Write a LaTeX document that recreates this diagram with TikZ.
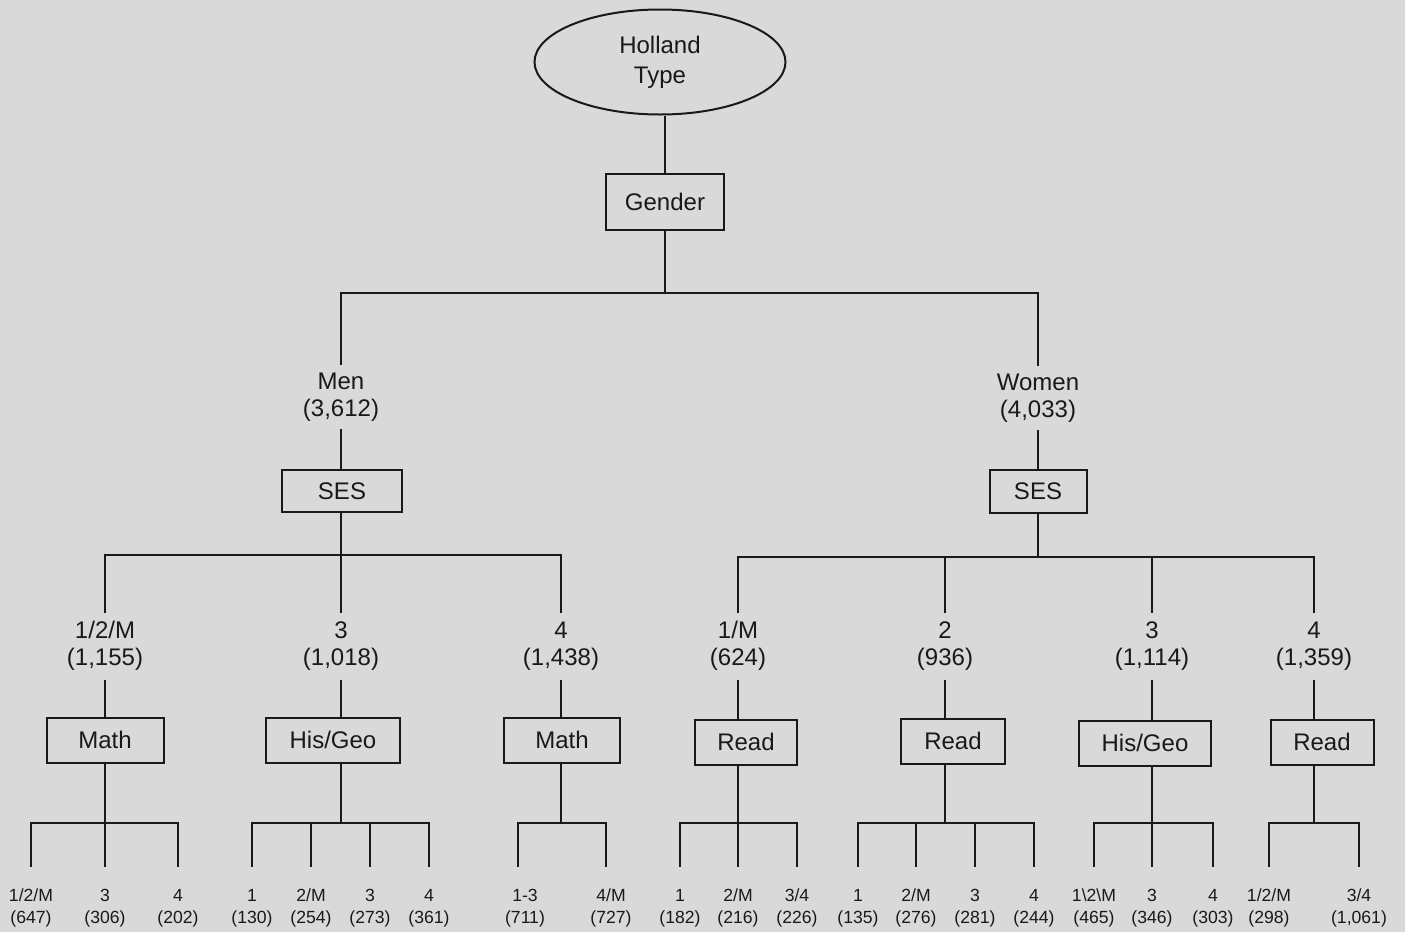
\documentclass[tikz,border=0pt]{standalone}
\usepackage{fontspec}
\setmainfont{Liberation Sans}
\usetikzlibrary{shapes.geometric}
\definecolor{bg}{RGB}{217,217,217}
\definecolor{ink}{RGB}{25,25,25}
\begin{document}
\begin{tikzpicture}[x=0.5pt,y=-0.5pt,color=ink,line width=1pt,
  box/.style={draw, rectangle, minimum height=22.5pt, inner sep=0pt, font=\fontsize{12}{13.5}\selectfont},
  lab/.style={align=center, inner sep=0pt, minimum height=32.5pt, font=\fontsize{12}{13.5}\selectfont},
  leaf/.style={align=center, inner sep=0pt, minimum height=40pt, font=\fontsize{8.8}{11}\selectfont},
  oval/.style={draw, ellipse, minimum width=125.5pt, minimum height=52.5pt, inner sep=0pt, align=center, font=\fontsize{12}{15}\selectfont}]
\path[use as bounding box, fill=bg] (0,0) rectangle (1405,932);

% top
\node[oval] (holland) at (660,62) {Holland\\Type};
\node[box, minimum width=59pt, minimum height=28pt] (gender) at (665,202) {Gender};
\coordinate (top) at (665,293);
\node[lab, minimum height=31pt] (men) at (341,397) {Men\\(3,612)};
\node[lab, minimum height=31pt] (women) at (1038,398) {Women\\(4,033)};
\node[box, minimum width=60pt, minimum height=21pt] (sesm) at (342,491) {SES};
\node[box, minimum width=48.5pt, minimum height=21.5pt] (sesw) at (1038,491) {SES};
\coordinate (bm) at (341,555);
\coordinate (bw) at (1038,557);

% middle labels
\node[lab] (m1) at (105,646) {1/2/M\\(1,155)};
\node[lab] (m2) at (341,646) {3\\(1,018)};
\node[lab] (m3) at (561,646) {4\\(1,438)};
\node[lab] (w1) at (738,646) {1/M\\(624)};
\node[lab] (w2) at (945,646) {2\\(936)};
\node[lab] (w3) at (1152,646) {3\\(1,114)};
\node[lab] (w4) at (1314,646) {4\\(1,359)};

% subject boxes
\node[box, minimum width=58.5pt] (math1) at (105,740) {Math};
\node[box, minimum width=67pt] (hg1) at (333,740) {His/Geo};
\node[box, minimum width=58pt] (math2) at (562,740) {Math};
\node[box, minimum width=51pt] (read1) at (746,742) {Read};
\node[box, minimum width=52pt] (read2) at (953,741) {Read};
\node[box, minimum width=66pt] (hg2) at (1145,743) {His/Geo};
\node[box, minimum width=51.5pt] (read3) at (1322,742) {Read};

% bottom buses
\coordinate (g1) at (105,823);
\coordinate (g2) at (341,823);
\coordinate (g3) at (561,823);
\coordinate (g4) at (738,823);
\coordinate (g5) at (945,823);
\coordinate (g6) at (1152,823);
\coordinate (g7) at (1314,823);

% leaves
\node[leaf] (l11) at (31,908) {1/2/M\\(647)};
\node[leaf] (l12) at (105,908) {3\\(306)};
\node[leaf] (l13) at (178,908) {4\\(202)};
\node[leaf] (l21) at (252,908) {1\\(130)};
\node[leaf] (l22) at (311,908) {2/M\\(254)};
\node[leaf] (l23) at (370,908) {3\\(273)};
\node[leaf] (l24) at (429,908) {4\\(361)};
\node[leaf] (l31) at (525,908) {1-3\\(711)};
\node[leaf] (l32) at (611,908) {4/M\\(727)};
\node[leaf] (l41) at (680,908) {1\\(182)};
\node[leaf] (l42) at (738,908) {2/M\\(216)};
\node[leaf] (l43) at (797,908) {3/4\\(226)};
\node[leaf] (l51) at (858,908) {1\\(135)};
\node[leaf] (l52) at (916,908) {2/M\\(276)};
\node[leaf] (l53) at (975,908) {3\\(281)};
\node[leaf] (l54) at (1034,908) {4\\(244)};
\node[leaf] (l61) at (1094,908) {1\textbackslash 2\textbackslash M\\(465)};
\node[leaf] (l62) at (1152,908) {3\\(346)};
\node[leaf] (l63) at (1213,908) {4\\(303)};
\node[leaf] (l71) at (1269,908) {1/2/M\\(298)};
\node[leaf] (l72) at (1359,908) {3/4\\(1,061)};

% connectors top
\draw (holland.south -| gender) -- (gender.north);
\draw (gender.south) -- (top);
\draw (men.north) |- (top) -| (women.north);
\draw (men.south) -- (sesm.north -| men);
\draw (women.south) -- (sesw.north -| women);
\draw (sesm.south -| men) -- (bm);
\draw (sesw.south -| women) -- (bw);
\draw (m1.north) |- (bm) -| (m3.north);
\draw (m2.north) -- (m2.north |- bm);
\draw (w1.north) |- (bw) -| (w4.north);
\draw (w2.north) -- (w2.north |- bw);
\draw (w3.north) -- (w3.north |- bw);

% column connectors
\draw (m1.south) -- (math1.north -| m1); \draw (math1.south -| m1) -- (g1);
\draw (m2.south) -- (hg1.north -| m2);   \draw (hg1.south -| m2) -- (g2);
\draw (m3.south) -- (math2.north -| m3); \draw (math2.south -| m3) -- (g3);
\draw (w1.south) -- (read1.north -| w1); \draw (read1.south -| w1) -- (g4);
\draw (w2.south) -- (read2.north -| w2); \draw (read2.south -| w2) -- (g5);
\draw (w3.south) -- (hg2.north -| w3);   \draw (hg2.south -| w3) -- (g6);
\draw (w4.south) -- (read3.north -| w4); \draw (read3.south -| w4) -- (g7);

% leaf connectors
\draw (l11.north) |- (g1) -| (l13.north);
\draw (l12.north) -- (l12.north |- g1);
\draw (l21.north) |- (g2) -| (l24.north);
\draw (l22.north) -- (l22.north |- g2);
\draw (l23.north) -- (l23.north |- g2);
\draw ([xshift=-3.5pt]l31.north) |- (g3) -| ([xshift=-2.5pt]l32.north);
\draw (l41.north) |- (g4) -| (l43.north);
\draw (l42.north) -- (l42.north |- g4);
\draw (l51.north) |- (g5) -| (l54.north);
\draw (l52.north) -- (l52.north |- g5);
\draw (l53.north) -- (l53.north |- g5);
\draw (l61.north) |- (g6) -| (l63.north);
\draw (l62.north) -- (l62.north |- g6);
\draw (l71.north) |- (g7) -| (l72.north);
\end{tikzpicture}
\end{document}
